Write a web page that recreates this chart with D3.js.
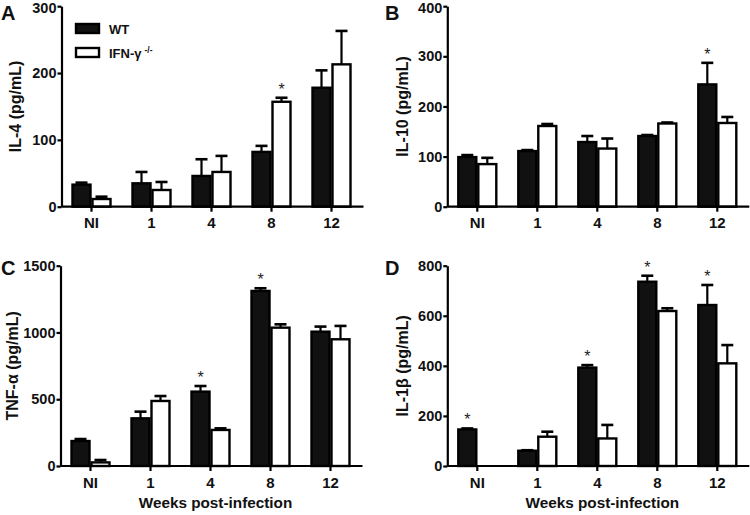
<!DOCTYPE html>
<html><head><meta charset="utf-8">
<script src="https://cdn.jsdelivr.net/npm/d3@7"></script>
<style>
html,body{margin:0;padding:0;background:#fff;}
svg{display:block;font-family:"Liberation Sans",Arial,sans-serif;}
</style></head>
<body>
<svg id="chart" width="750" height="515"></svg>
<script>
const categories = ["NI","1","4","8","12"];
const seriesNames = ["WT","IFN-γ"];

const il4WT    = [33, 35, 46, 82, 178];
const il4WTerr = [3, 17, 25, 9, 26];
const il4KO    = [11.5, 25, 52, 157, 213];
const il4KOerr = [3.5, 12, 24, 6, 50];
const il4Ticks = [0, 100, 200, 300];
const il4Stars = [["8", 1]];

const il10WT    = [99, 111, 129, 141, 244];
const il10WTerr = [4, 2, 12, 2, 43];
const il10KO    = [85, 161, 116, 166, 167];
const il10KOerr = [12.5, 4, 20, 2, 12];
const il10Ticks = [0, 100, 200, 300, 400];
const il10Stars = [["12", 0]];

const tnfWT    = [187, 357, 557, 1311, 1006];
const tnfWTerr = [15, 50, 42, 20, 38];
const tnfKO    = [27, 487, 270, 1036, 949];
const tnfKOerr = [18, 37, 12, 25, 100];
const tnfTicks = [0, 500, 1000, 1500];
const tnfStars = [["4", 0], ["8", 0]];

const il1bWT    = [146, 61, 393, 736, 643];
const il1bWTerr = [4, 2, 10, 24, 80];
const il1bKO    = [0, 117, 110, 619, 410];
const il1bKOerr = [0, 20, 54, 11, 73];
const il1bTicks = [0, 200, 400, 600, 800];
const il1bStars = [["NI", 0], ["4", 0], ["8", 0], ["12", 0]];

const xTitle = "Weeks post-infection";

const panels = [
  {letter:"A", title:"IL-4 (pg/mL)", wt:il4WT, wtErr:il4WTerr, ko:il4KO, koErr:il4KOerr, ticks:il4Ticks, stars:il4Stars,
   ax:61.5, y0:206.7, y1:6.2, letterX:1, letterY:20, titleX:21, legend:true, xlab:false},
  {letter:"B", title:"IL-10 (pg/mL)", wt:il10WT, wtErr:il10WTerr, ko:il10KO, koErr:il10KOerr, ticks:il10Ticks, stars:il10Stars,
   ax:447.3, y0:206.7, y1:6.2, letterX:385, letterY:20, titleX:408, legend:false, xlab:false},
  {letter:"C", title:"TNF-α (pg/mL)", wt:tnfWT, wtErr:tnfWTerr, ko:tnfKO, koErr:tnfKOerr, ticks:tnfTicks, stars:tnfStars,
   ax:60.5, y0:466, y1:265.7, letterX:1, letterY:275, titleX:18, legend:false, xlab:true},
  {letter:"D", title:"IL-1β (pg/mL)", wt:il1bWT, wtErr:il1bWTerr, ko:il1bKO, koErr:il1bKOerr, ticks:il1bTicks, stars:il1bStars,
   ax:447.3, y0:466, y1:265.7, letterX:385, letterY:275, titleX:408, legend:false, xlab:true}
];

const svg = d3.select("#chart");
const fillColors = ["#111", "#fff"];

panels.forEach(p => {
  const g = svg.append("g");
  const x0 = d3.scaleBand().domain(categories).range([p.ax, p.ax + 300]).paddingInner(1/3).paddingOuter(1/6);
  const x1 = d3.scaleBand().domain([0, 1]).range([0, x0.bandwidth()]);
  const y = d3.scaleLinear().domain([p.ticks[0], p.ticks[p.ticks.length-1]]).range([p.y0, p.y1]);

  const data = [];
  categories.forEach((c, i) => {
    data.push({c, s:0, v:p.wt[i], e:p.wtErr[i]});
    data.push({c, s:1, v:p.ko[i], e:p.koErr[i]});
  });
  const shown = data.filter(d => d.v > 0);

  // error bars (upper only)
  const eg = g.append("g");
  eg.selectAll("line.stem").data(shown).join("line")
    .attr("x1", d => x0(d.c) + x1(d.s) + x1.bandwidth()/2)
    .attr("x2", d => x0(d.c) + x1(d.s) + x1.bandwidth()/2)
    .attr("y1", d => y(d.v)).attr("y2", d => y(d.v + d.e))
    .attr("stroke", "#000").attr("stroke-width", 2.2);
  eg.selectAll("line.cap").data(shown).join("line")
    .attr("x1", d => x0(d.c) + x1(d.s) + x1.bandwidth()/2 - 6)
    .attr("x2", d => x0(d.c) + x1(d.s) + x1.bandwidth()/2 + 6)
    .attr("y1", d => y(d.v + d.e)).attr("y2", d => y(d.v + d.e))
    .attr("stroke", "#000").attr("stroke-width", 2.6);

  g.append("g").selectAll("rect").data(shown).join("rect")
    .attr("x", d => x0(d.c) + x1(d.s) + 1)
    .attr("width", x1.bandwidth() - 2)
    .attr("y", d => y(d.v))
    .attr("height", d => y(0) - y(d.v))
    .attr("fill", d => fillColors[d.s])
    .attr("stroke", "#000").attr("stroke-width", 2.4);

  // stars
  g.append("g").selectAll("text").data(p.stars).join("text")
    .attr("x", d => x0(d[0]) + x1(d[1]) + x1.bandwidth()/2)
    .attr("y", d => {
      const i = categories.indexOf(d[0]);
      const v = d[1] === 0 ? p.wt[i] + p.wtErr[i] : p.ko[i] + p.koErr[i];
      return y(v) - 3;
    })
    .attr("text-anchor", "middle").attr("font-size", 16).attr("fill", "#222").text("*");

  // y axis
  const ya = g.append("g").attr("transform", `translate(${p.ax},0)`)
    .call(d3.axisLeft(y).tickValues(p.ticks).tickSize(4).tickSizeOuter(0).tickPadding(1).tickFormat(d3.format("d")));
  ya.selectAll("path,line").attr("stroke", "#000").attr("stroke-width", 2.2);
  ya.selectAll("text").attr("font-size", 14.5).attr("font-weight", "bold").attr("fill", "#111")
    .attr("dy", (d, i, n) => i === n.length - 1 && p.y1 < 10 ? "0.45em" : "0.32em");

  // x axis
  const xa = g.append("g").attr("transform", `translate(0,${p.y0})`)
    .call(d3.axisBottom(x0).tickSize(5).tickSizeOuter(0).tickPadding(6));
  xa.select("path.domain").attr("d", `M${p.ax},0H${p.ax + 302}`);
  xa.selectAll("path,line").attr("stroke", "#000").attr("stroke-width", 2.2);
  xa.selectAll("text").attr("font-size", 15).attr("font-weight", "bold").attr("fill", "#111");

  // y title
  g.append("text")
    .attr("transform", `translate(${p.titleX},${(p.y0 + p.y1)/2}) rotate(-90)`)
    .attr("text-anchor", "middle").attr("font-size", 16).attr("font-weight", "bold").attr("fill", "#111")
    .text(p.title);

  // panel letter
  g.append("text").attr("x", p.letterX).attr("y", p.letterY)
    .attr("font-size", 20).attr("font-weight", "bold").attr("fill", "#111").text(p.letter);

  if (p.xlab) {
    g.append("text").attr("x", p.ax + 155).attr("y", 508)
      .attr("text-anchor", "middle").attr("font-size", 15.3).attr("font-weight", "bold").attr("fill", "#111")
      .text(xTitle);
  }

  if (p.legend) {
    const lg = g.append("g");
    seriesNames.forEach((s, i) => {
      const ly = 24 + i * 24;
      lg.append("rect").attr("x", 76).attr("y", ly).attr("width", 23).attr("height", 9)
        .attr("fill", fillColors[i]).attr("stroke", "#000").attr("stroke-width", 2.4);
      const t = lg.append("text").attr("x", 109).attr("y", ly + 9.5)
        .attr("font-size", 13).attr("font-weight", "bold").attr("fill", "#111").text(s);
      if (i === 1) {
        t.append("tspan").attr("dx", 3).attr("dy", -5).attr("font-size", 8.5).text("-/-");
      }
    });
  }
});
</script>
</body></html>
